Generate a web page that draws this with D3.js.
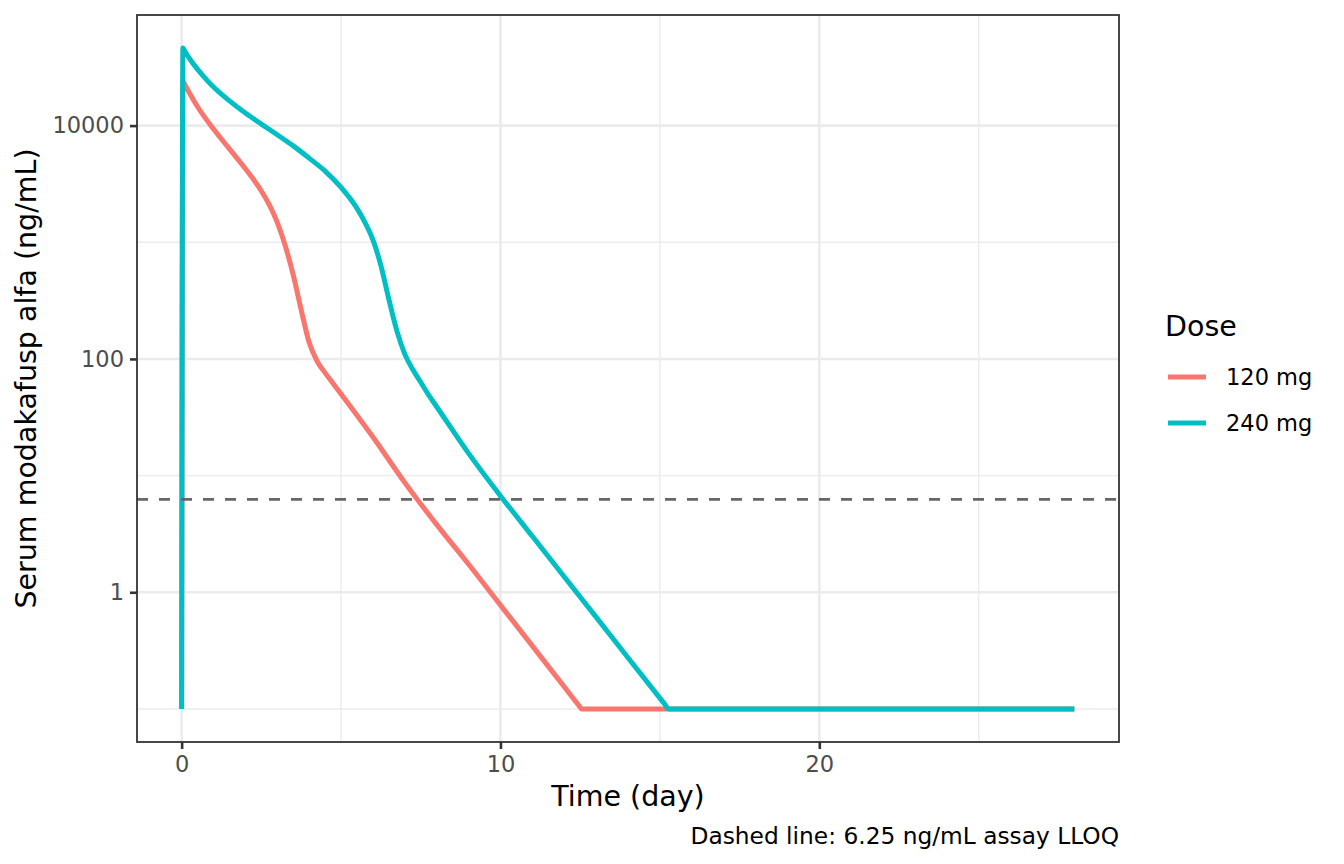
<!DOCTYPE html>
<html>
<head>
<meta charset="utf-8">
<script src="https://cdn.jsdelivr.net/npm/d3@7"></script>
<style>
  body { margin: 0; background: #fff; }
  text { font-family: "DejaVu Sans", sans-serif; }
</style>
</head>
<body>
<svg id="chart" width="1344" height="864"></svg>
<script>
// dose groups
var doseLabels = ["120 mg", "240 mg"];
var doseColors = ["#F8766D", "#00BFC4"];

// 120 mg profile, time (day) / conc (ng/mL)
var time120 = [0, 0.04, 0.1, 0.5, 1.0, 1.5, 2.0, 2.25, 2.5, 2.75, 3.0, 3.25, 3.5, 3.75, 4.0, 4.25, 4.5, 4.75, 5.0,
               6.0, 7.0, 8.0, 9.0, 10.0, 11.0, 12.0, 12.45, 12.55, 15.27, 20, 28];
var conc120 = [0.1, 24000, 22400, 14500, 9330, 6310, 4270, 3470, 2750, 2090, 1480, 933, 525, 263, 138, 95.5, 75.9, 61.7, 50.1,
               21.4, 8.71, 3.80, 1.74, 0.776, 0.347, 0.155, 0.108, 0.1, 0.1, 0.1, 0.1];

// 240 mg profile
var time240 = [0, 0.04, 0.1, 0.3, 0.7, 1.0, 1.5, 2.0, 2.5, 3.0, 3.5, 4.0, 4.5, 5.0, 5.5, 5.75, 6.0, 6.25, 6.5,
               6.75, 7.0, 7.25, 7.5, 7.75, 8.0, 9.0, 10.0, 11.0, 12.0, 13.0, 14.0, 15.15, 15.27, 20, 28];
var conc240 = [0.1, 46200, 43400, 35800, 26200, 21400, 16300, 12800, 10300, 8340, 6700, 5260, 4070, 2950, 1950, 1480, 1050, 631, 324,
               174, 110, 81.3, 63.1, 49.0, 38.9, 15.5, 6.70, 3.02, 1.36, 0.612, 0.275, 0.110, 0.1, 0.1, 0.1];

var xTicks = [0, 10, 20];
var xMinor = [5, 15, 25];
var yTicks = [1, 100, 10000];
var yMinor = [0.1, 10, 1000];
var lloq = 6.25;

var series = [
  { dose: doseLabels[0], color: doseColors[0], t: time120, c: conc120 },
  { dose: doseLabels[1], color: doseColors[1], t: time240, c: conc240 }
];

var svg = d3.select("#chart");
var panel = { left: 137, right: 1119, top: 15, bottom: 742 };

// scales with ggplot-like 5% expansion
var allT = time120.concat(time240);
var allC = conc120.concat(conc240);
var tExt = d3.extent(allT);
var tPad = (tExt[1] - tExt[0]) * 0.05;
var lcExt = d3.extent(allC).map(Math.log10);
var lcPad = (lcExt[1] - lcExt[0]) * 0.05;

var x = d3.scaleLinear()
  .domain([tExt[0] - tPad, tExt[1] + tPad])
  .range([panel.left, panel.right]);
var y = d3.scaleLog()
  .domain([Math.pow(10, lcExt[0] - lcPad), Math.pow(10, lcExt[1] + lcPad)])
  .range([panel.bottom, panel.top]);

// grid
var grid = svg.append("g");
grid.selectAll(".ymin").data(yMinor).enter().append("line")
  .attr("x1", panel.left).attr("x2", panel.right)
  .attr("y1", function(d) { return y(d); }).attr("y2", function(d) { return y(d); })
  .attr("stroke", "#EBEBEB").attr("stroke-width", 1.4);
grid.selectAll(".xmin").data(xMinor).enter().append("line")
  .attr("y1", panel.top).attr("y2", panel.bottom)
  .attr("x1", function(d) { return x(d); }).attr("x2", function(d) { return x(d); })
  .attr("stroke", "#EBEBEB").attr("stroke-width", 1.4);
grid.selectAll(".ymaj").data(yTicks).enter().append("line")
  .attr("x1", panel.left).attr("x2", panel.right)
  .attr("y1", function(d) { return y(d); }).attr("y2", function(d) { return y(d); })
  .attr("stroke", "#EBEBEB").attr("stroke-width", 2.6);
grid.selectAll(".xmaj").data(xTicks).enter().append("line")
  .attr("y1", panel.top).attr("y2", panel.bottom)
  .attr("x1", function(d) { return x(d); }).attr("x2", function(d) { return x(d); })
  .attr("stroke", "#EBEBEB").attr("stroke-width", 2.6);

// curves
var line = d3.line()
  .x(function(d) { return x(d[0]); })
  .y(function(d) { return y(d[1]); })
  .curve(d3.curveMonotoneX);

svg.append("g").selectAll("path").data(series).enter().append("path")
  .attr("d", function(s) { return line(d3.zip(s.t, s.c)); })
  .attr("fill", "none")
  .attr("stroke", function(s) { return s.color; })
  .attr("stroke-width", 5)
  .attr("stroke-linejoin", "round");

// LLOQ reference line
svg.append("line")
  .attr("x1", panel.left).attr("x2", panel.right)
  .attr("y1", y(lloq)).attr("y2", y(lloq))
  .attr("stroke", "#666666").attr("stroke-width", 2.8)
  .attr("stroke-dasharray", "11,11");

// panel border
svg.append("rect")
  .attr("x", panel.left).attr("y", panel.top)
  .attr("width", panel.right - panel.left).attr("height", panel.bottom - panel.top)
  .attr("fill", "none").attr("stroke", "#333333").attr("stroke-width", 1.8);

// axes
var xAxis = svg.append("g")
  .attr("transform", "translate(0," + panel.bottom + ")")
  .call(d3.axisBottom(x).tickValues(xTicks).tickSize(7).tickPadding(7).tickFormat(d3.format("d")));
var yAxis = svg.append("g")
  .attr("transform", "translate(" + panel.left + ",0)")
  .call(d3.axisLeft(y).tickValues(yTicks).tickSize(7).tickPadding(6).tickFormat(d3.format("d")));

[xAxis, yAxis].forEach(function(a) {
  a.select(".domain").remove();
  a.selectAll(".tick line").attr("stroke", "#333333").attr("stroke-width", 2.6);
  a.selectAll(".tick text")
    .attr("fill", "#4D4D4D")
    .style("font-size", "22.5px")
    .style("font-family", "DejaVu Sans, sans-serif");
});

// titles
svg.append("text")
  .attr("x", (panel.left + panel.right) / 2).attr("y", 805.5)
  .attr("text-anchor", "middle")
  .style("font-size", "28.5px")
  .text("Time (day)");

svg.append("text")
  .attr("transform", "translate(36," + (panel.top + panel.bottom) / 2 + ") rotate(-90)")
  .attr("text-anchor", "middle")
  .style("font-size", "28.5px")
  .text("Serum modakafusp alfa (ng/mL)");

svg.append("text")
  .attr("x", panel.right).attr("y", 844)
  .attr("text-anchor", "end")
  .style("font-size", "23.3px")
  .text("Dashed line: 6.25 ng/mL assay LLOQ");

// legend
var legend = svg.append("g");
legend.append("text")
  .attr("x", 1165).attr("y", 336)
  .style("font-size", "28.5px")
  .text("Dose");

var items = legend.selectAll(".item").data(series).enter().append("g")
  .attr("transform", function(d, i) { return "translate(0," + (377 + i * 46) + ")"; });
items.append("line")
  .attr("x1", 1168).attr("x2", 1206)
  .attr("stroke", function(d) { return d.color; })
  .attr("stroke-width", 5);
items.append("text")
  .attr("x", 1226).attr("dy", "0.36em")
  .style("font-size", "22.5px")
  .text(function(d) { return d.dose; });
</script>
</body>
</html>
